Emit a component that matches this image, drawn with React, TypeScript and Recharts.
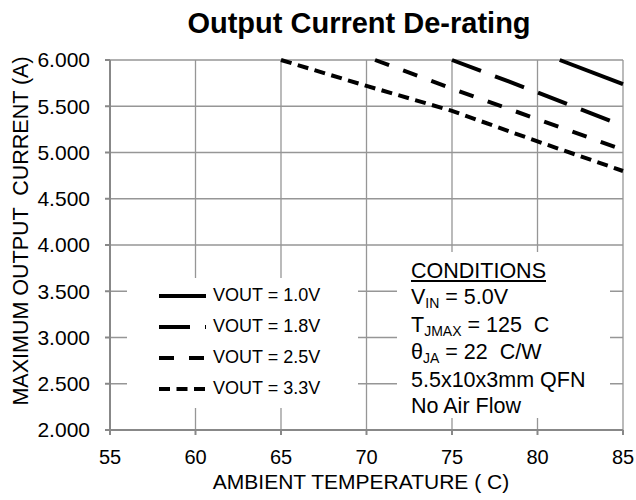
import React from "react";
import { LineChart, Line, XAxis, YAxis, CartesianGrid, Legend, Label } from "recharts";

const FONT = '"Liberation Sans", Arial, sans-serif';

// ambient temperature (C) and max output current (A)
const temp10 = [81.3, 85];
const amps10 = [6.0, 5.74];
const temp18 = [75, 80, 85];
const amps18 = [6.0, 5.65, 5.29];
const temp25 = [70.5, 75, 80, 85];
const amps25 = [6.0, 5.69, 5.36, 5.03];
const temp33 = [65, 70, 75, 80, 85];
const amps33 = [6.0, 5.72, 5.45, 5.12, 4.8];

const xTicks = [55, 60, 65, 70, 75, 80, 85];
const yTicks = [2, 2.5, 3, 3.5, 4, 4.5, 5, 5.5, 6];

const toPoints = (t: number[], a: number[]) => t.map((x, i) => ({ temp: x, amps: a[i] }));

const series = [
  { name: "VOUT = 1.0V", data: toPoints(temp10, amps10), dash: undefined as string | undefined },
  { name: "VOUT = 1.8V", data: toPoints(temp18, amps18), dash: "31 15" },
  { name: "VOUT = 2.5V", data: toPoints(temp25, amps25), dash: "15 15" },
  { name: "VOUT = 3.3V", data: toPoints(temp33, amps33), dash: "11 6.5" },
];

const renderLegend = () => (
  <div style={{ background: "#fff", width: 231, height: 130, boxSizing: "border-box", paddingTop: 2, paddingLeft: 32 }}>
    {series.map((s) => (
      <div key={s.name} style={{ display: "flex", alignItems: "center", height: 31 }}>
        <svg width={47} height={8}>
          <line x1={0} y1={4} x2={47} y2={4} stroke="#000" strokeWidth={4} strokeDasharray={s.dash} />
        </svg>
        <span style={{ marginLeft: 7, fontSize: 18, fontFamily: FONT, color: "#000" }}>{s.name}</span>
      </div>
    ))}
  </div>
);

const sub = { fontSize: 14, position: "relative" as const, top: 4 };

export default function App() {
  return (
    <div style={{ position: "absolute", left: 0, top: 0, width: 636, height: 500, background: "#fff", fontFamily: FONT }}>
      <div style={{ position: "absolute", left: 0, top: 9, width: 718, textAlign: "center", fontSize: 29, lineHeight: "28px", fontWeight: "bold" }}>
        Output Current De-rating
      </div>

      <LineChart width={636} height={500} margin={{ top: 60, right: 13, bottom: 0, left: 0 }}>
        <CartesianGrid stroke="#969696" strokeWidth={1.3} />
        <XAxis
          dataKey="temp"
          type="number"
          domain={[55, 85]}
          ticks={xTicks}
          height={70}
          tickSize={5}
          tickMargin={15}
          stroke="#888"
          strokeWidth={2}
          tick={{ fill: "#000", fontSize: 20, fontFamily: FONT }}
          allowDuplicatedCategory={false}
        >
          <Label
            content={() => (
              <text x={361} y={489} textAnchor="middle" fontSize={21} fontFamily={FONT} fill="#000" xmlSpace="preserve" style={{ whiteSpace: "pre" }}>
                AMBIENT TEMPERATURE ( C)
              </text>
            )}
          />
        </XAxis>
        <YAxis
          type="number"
          domain={[2, 6]}
          ticks={yTicks}
          width={110}
          tickSize={5}
          tickMargin={15}
          stroke="#888"
          strokeWidth={2}
          tickFormatter={(v: number) => v.toFixed(3)}
          tick={{ fill: "#000", fontSize: 21, fontFamily: FONT }}
        >
          <Label
            content={() => (
              <text x={28} y={231} transform="rotate(-90 28 231)" textAnchor="middle" fontSize={21.5} fontFamily={FONT} fill="#000" xmlSpace="preserve" style={{ whiteSpace: "pre" }}>
                MAXIMUM OUTPUT  CURRENT (A)
              </text>
            )}
          />
        </YAxis>
        {series.map((s) => (
          <Line
            key={s.name}
            data={s.data}
            dataKey="amps"
            name={s.name}
            type="linear"
            stroke="#000"
            strokeWidth={4}
            strokeDasharray={s.dash}
            dot={false}
            isAnimationActive={false}
          />
        ))}
        <Legend
          layout="vertical"
          align="center"
          verticalAlign="middle"
          content={renderLegend}
          wrapperStyle={{ left: 127, top: 278, width: 231, height: 130 }}
        />
      </LineChart>

      <div
        style={{
          position: "absolute",
          left: 397,
          top: 252,
          width: 213,
          height: 166,
          boxSizing: "border-box",
          paddingTop: 7,
          paddingLeft: 14,
          background: "#fff",
          fontSize: 21.5,
          lineHeight: "25.8px",
          color: "#000",
          whiteSpace: "pre",
        }}
      >
        <div style={{ textDecoration: "underline" }}>CONDITIONS</div>
        <div>
          V<span style={sub}>IN</span> = 5.0V
        </div>
        <div>
          T<span style={sub}>JMAX</span> = 125  C
        </div>
        <div>
          θ<span style={sub}>JA</span> = 22  C/W
        </div>
        <div>5.5x10x3mm QFN</div>
        <div>No Air Flow</div>
      </div>
    </div>
  );
}
